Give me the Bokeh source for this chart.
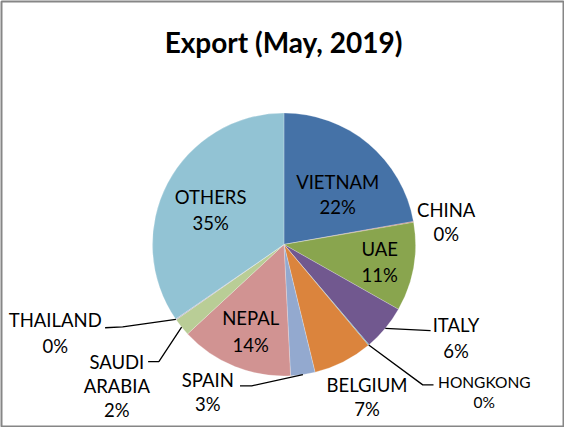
import numpy as np
from bokeh.plotting import figure
from bokeh.models import Range1d, ColumnDataSource
from bokeh.core.properties import value
from bokeh.embed import file_html
from bokeh.resources import INLINE

# ---------------- data ----------------
title_text = "Export (May, 2019)"
countries = ["VIETNAM", "CHINA", "UAE", "ITALY", "HONGKONG", "BELGIUM",
             "SPAIN", "NEPAL", "SAUDI ARABIA", "THAILAND", "OTHERS"]
shares = [22.2, 0.1, 10.9, 5.6, 0.1, 7.3, 3.0, 13.9, 2.2, 0.1, 34.6]
colors = ["#4572A7", "#AA4643", "#89A54E", "#71588F", "#4198AF", "#DB843D",
          "#93A9CF", "#D19392", "#B9CD96", "#A99BBD", "#92C3D4"]

# ---------------- layout ----------------
W, H = 564, 427
MB = 1
FW, FH = W - 2 * MB, H - 2 * MB
SX = FW / 575.0
SY = FH / 439.0


def fx(rx):
    return (rx - 4) * SX


def fy(ry):
    return FH - (ry - 3) * SY


CX, CY = fx(293), fy(254)
R = 131.5
FONT = "Lato"
LABEL_SIZE = 18.5
SMALL_SIZE = 15.5

# label anchor (reference px of first line) and line spacing
label_pos = {
    "VIETNAM": (348, 189, 26), "CHINA": (459, 218, 25), "UAE": (391, 259, 26),
    "ITALY": (469, 337, 27), "HONGKONG": (498, 396, 21), "BELGIUM": (378, 399, 25),
    "SPAIN": (215, 394, 25), "NEPAL": (259, 330, 28),
    "SAUDI ARABIA": (122, 375, 25), "THAILAND": (59, 332, 27), "OTHERS": (218, 205, 27),
}
small_labels = {"HONGKONG"}
# leader line elbow points (reference px), from the pie edge outwards
leader_pts = {
    "ITALY": [(443, 343)],
    "HONGKONG": [(435, 399), (446, 399)],
    "SPAIN": [(260, 400), (248, 400)],
    "SAUDI ARABIA": [(165, 375), (154, 375)],
    "THAILAND": [(128, 339), (110, 340)],
}

# ---------------- figure ----------------
p = figure(width=W, height=H, output_backend="svg", toolbar_location=None,
           x_range=Range1d(0, FW), y_range=Range1d(0, FH),
           min_border=MB, x_axis_location=None, y_axis_location=None)
p.grid.visible = False
p.outline_line_color = "#868686"
p.outline_line_width = 2
p.background_fill_color = "white"
p.border_fill_color = "white"

total = float(sum(shares))
cum = np.concatenate([[0.0], np.cumsum(shares)]) / total
start = 90.0 - cum[:-1] * 360.0
end = 90.0 - cum[1:] * 360.0
mid = (start + end) / 2.0

src = ColumnDataSource(dict(start=start, end=end, color=colors,
                            x=[CX] * len(shares), y=[CY] * len(shares)))
p.wedge(x="x", y="y", radius=R, start_angle="start", end_angle="end",
        start_angle_units="deg", end_angle_units="deg", direction="clock",
        fill_color="color", line_color="white", line_width=0.4, line_alpha=0.6,
        source=src)

# leader lines
xs, ys = [], []
for i, c in enumerate(countries):
    if c in leader_pts:
        a = np.deg2rad(mid[i])
        px = [CX + R * np.cos(a)] + [fx(q[0]) for q in leader_pts[c]]
        py = [CY + R * np.sin(a)] + [fy(q[1]) for q in leader_pts[c]]
        xs.append(px)
        ys.append(py)
p.multi_line(xs=xs, ys=ys, line_color="black", line_width=1.3)

# labels
for i, c in enumerate(countries):
    pct = f"{shares[i] / total * 100:.0f}%"
    lines = c.split(" ") + [pct]
    rx, ry, sp = label_pos[c]
    size = SMALL_SIZE if c in small_labels else LABEL_SIZE
    tx = [fx(rx)] * len(lines)
    ty = [fy(ry + k * sp) for k in range(len(lines))]
    p.text(x=tx, y=ty, text=lines, text_align="center", text_baseline="middle",
           text_font=value(FONT), text_font_size=f"{size}px", text_color="#000000")

# title
p.text(x=[fx(292.5)], y=[fy(45)], text=[title_text], text_align="center",
       text_baseline="middle", text_font=value(FONT), text_font_style="bold",
       text_font_size="28px", text_color="#000000")

open("out.html", "w").write(file_html(p, INLINE))
